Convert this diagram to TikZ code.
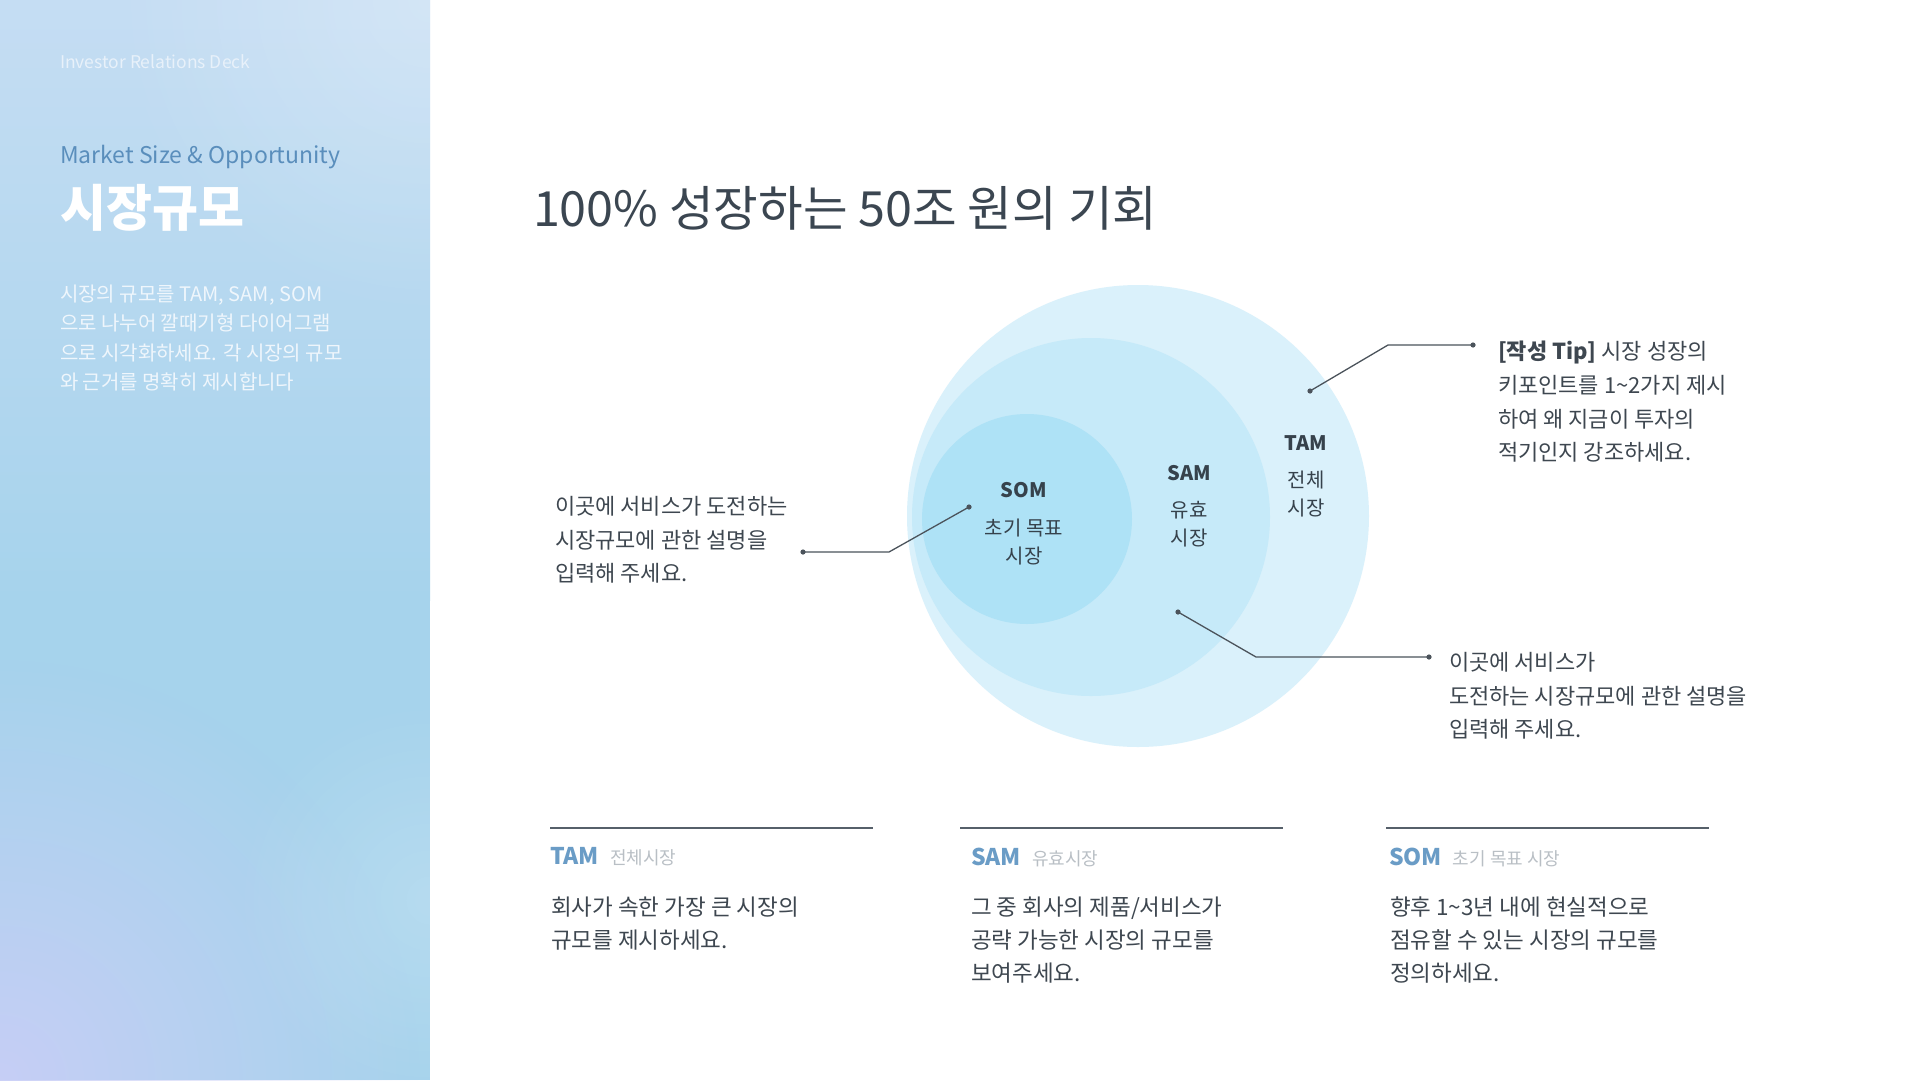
\documentclass[tikz,border=0pt]{standalone}
\usepackage{fontspec}
\setmainfont{Noto Sans CJK KR}
\usetikzlibrary{fadings}
\definecolor{paneltop}{RGB}{197,221,243}
\definecolor{panelmid}{RGB}{166,211,236}
\definecolor{lavender}{RGB}{200,206,246}
\definecolor{titletext}{RGB}{59,70,81}
\definecolor{bodytext}{RGB}{62,71,80}
\definecolor{labtext}{RGB}{54,66,76}
\definecolor{connc}{RGB}{75,83,91}
\definecolor{rulec}{RGB}{86,96,106}
\definecolor{headblue}{RGB}{106,156,198}
\definecolor{subgray}{RGB}{185,191,197}
\definecolor{marketblue}{RGB}{90,142,188}
\definecolor{investc}{RGB}{232,241,250}
\definecolor{descc}{RGB}{239,246,252}
\definecolor{tamc}{RGB}{218,241,251}
\definecolor{samc}{RGB}{198,234,249}
\definecolor{somc}{RGB}{174,226,246}
\tikzfading[name=radialfade, inner color=transparent!0, outer color=transparent!100]
\begin{document}
\begin{tikzpicture}[x=1pt,y=-1pt,
  every node/.style={inner sep=0pt, outer sep=0pt},
  bodytxt/.style={font=\fontsize{22}{33.8}\selectfont, text=bodytext, align=left, anchor=north west},
  coltxt/.style={font=\fontsize{22.5}{33}\selectfont, text=bodytext, align=left, anchor=north west},
  circlab/.style={font=\fontsize{20}{27.5}\selectfont, text=labtext, align=center},
  circhead/.style={font=\fontsize{20}{20}\selectfont\bfseries, text=labtext},
  colhead/.style={font=\fontsize{23}{23}\selectfont\bfseries, text=headblue, anchor=west},
  conn/.style={draw=connc, line width=1.3pt},
  colrule/.style={draw=rulec, line width=2pt}]
\useasboundingbox (0,0) rectangle (1920,1080);
\fill[white] (0,0) rectangle (1920,1080);
% left panel
\begin{scope}
\clip (0,0) rectangle (430,1080);
\shade[top color=paneltop, bottom color=panelmid] (0,0) rectangle (430,600);
\fill[panelmid] (0,599) rectangle (430,1080);
\fill[lavender, path fading=radialfade, fill opacity=0.95] (0,1080) circle (420);
\fill[white, path fading=radialfade, fill opacity=0.25] (430,0) circle (320);
\fill[white, path fading=radialfade, fill opacity=0.18] (430,900) circle (200);
\end{scope}
\node[anchor=west, font=\fontsize{17.5}{17.5}\selectfont, text=investc] (invest) at (60,62) {Investor Relations Deck};
\node[anchor=west, font=\fontsize{23}{23}\selectfont, text=marketblue] (market) at (60,157) {Market Size \& Opportunity};
\node[anchor=west, font=\fontsize{50}{50}\selectfont\bfseries, text=white] (ptitle) at (60,208) {시장규모};
\node[anchor=north west, align=left, font=\fontsize{20}{29.4}\selectfont, text=descc] (desc) at (60,285)
  {시장의 규모를 TAM, SAM, SOM\\으로 나누어 깔때기형 다이어그램\\으로 시각화하세요. 각 시장의 규모\\와 근거를 명확히 제시합니다};
% main title
\node[anchor=west, font=\fontsize{48.5}{48.5}\selectfont, text=titletext] (title) at (533,208) {100\% 성장하는 50조 원의 기회};
% circles
\fill[tamc] (1138,516) circle (231);
\fill[samc] (1091,517) circle (179);
\fill[somc] (1027,519) circle (105);
\node[circhead] (somh) at (1024,490) {SOM};
\node[circlab] (soml) at (1024,542) {초기 목표\\시장};
\node[circhead] (samh) at (1189,473) {SAM};
\node[circlab] (saml) at (1189,524) {유효\\시장};
\node[circhead] (tamh) at (1306,443) {TAM};
\node[circlab] (taml) at (1306,494) {전체\\시장};
% connectors
\coordinate (l1) at (803,552);
\coordinate (l2) at (889,552);
\coordinate (l3) at (969,507);
\coordinate (t1) at (1310,391);
\coordinate (t2) at (1388,345);
\coordinate (t3) at (1473,345);
\coordinate (b1) at (1178,612);
\coordinate (b2) at (1256,657);
\coordinate (b3) at (1429,657);
\draw[conn] (l1) -- (l2) -- (l3);
\draw[conn] (t1) -- (t2) -- (t3);
\draw[conn] (b1) -- (b2) -- (b3);
\foreach \p in {l1,l3,t1,t3,b1,b3} \fill[connc] (\p) circle (2.6);
% annotations
\node[bodytxt] (leftnote) at (555,496) {이곳에 서비스가 도전하는\\시장규모에 관한 설명을\\입력해 주세요.};
\node[bodytxt] (tipnote) at (1498,341) {{\bfseries [작성 Tip]} 시장 성장의\\키포인트를 1\textasciitilde2가지 제시\\하여 왜 지금이 투자의\\적기인지 강조하세요.};
\node[bodytxt] (brnote) at (1449,652) {이곳에 서비스가\\도전하는 시장규모에 관한 설명을\\입력해 주세요.};
% bottom columns
\draw[colrule] (550,828) -- (873,828);
\draw[colrule] (960,828) -- (1283,828);
\draw[colrule] (1386,828) -- (1709,828);
\node[colhead] (tamhead) at (550,857) {TAM\hspace{11pt}{\mdseries\fontsize{18}{18}\selectfont\color{subgray}전체시장}};
\node[colhead] (samhead) at (971,857) {SAM\hspace{11pt}{\mdseries\fontsize{18}{18}\selectfont\color{subgray}유효시장}};
\node[colhead] (somhead) at (1389,857) {SOM\hspace{11pt}{\mdseries\fontsize{18}{18}\selectfont\color{subgray}초기 목표 시장}};
\node[coltxt] (tambody) at (551,897) {회사가 속한 가장 큰 시장의\\규모를 제시하세요.};
\node[coltxt] (sambody) at (971,897) {그 중 회사의 제품/서비스가\\공략 가능한 시장의 규모를\\보여주세요.};
\node[coltxt] (sombody) at (1390,897) {향후 1\textasciitilde3년 내에 현실적으로\\점유할 수 있는 시장의 규모를\\정의하세요.};
\end{tikzpicture}
\end{document}
